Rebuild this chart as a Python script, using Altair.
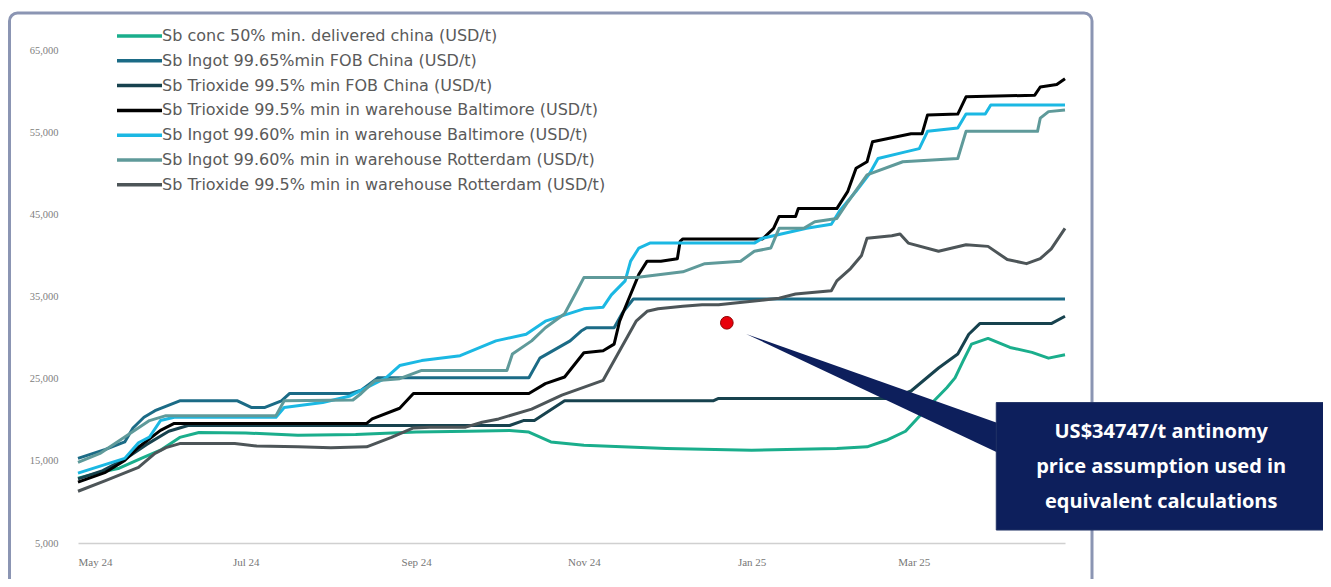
import altair as alt
import pandas as pd

SERIES = [
    "Sb conc 50% min. delivered china (USD/t)",
    "Sb Ingot 99.65%min FOB China  (USD/t)",
    "Sb Trioxide 99.5% min FOB China (USD/t)",
    "Sb Trioxide 99.5% min in warehouse Baltimore  (USD/t)",
    "Sb Ingot 99.60% min in warehouse Baltimore  (USD/t)",
    "Sb Ingot 99.60% min in warehouse Rotterdam  (USD/t)",
    "Sb Trioxide 99.5% min in warehouse Rotterdam (USD/t)",
]
COLORS = ["#1aae8c", "#1b6b86", "#17424e", "#000000", "#1bb8e3", "#5f9a9a", "#4d5558"]

conc_dates = ["2024-05-01", "2024-05-08", "2024-05-16", "2024-05-24", "2024-05-31", "2024-06-07",
              "2024-06-14", "2024-07-01", "2024-07-20", "2024-08-10", "2024-09-01", "2024-09-20",
              "2024-10-05", "2024-10-12", "2024-10-20", "2024-11-01", "2024-12-01", "2025-01-01",
              "2025-02-01", "2025-02-12", "2025-02-19", "2025-02-26", "2025-03-06", "2025-03-13",
              "2025-03-16", "2025-03-19", "2025-03-22", "2025-03-28", "2025-04-05", "2025-04-13",
              "2025-04-19", "2025-04-25"]
conc_vals = [12900, 13500, 14100, 15300, 16300, 17850, 18450, 18400, 18100, 18200, 18500, 18600,
             18700, 18500, 17300, 16900, 16500, 16300, 16500, 16700, 17500, 18600, 21500, 23900,
             25100, 27200, 29200, 29900, 28800, 28200, 27500, 27900]

ingot_fob_dates = ["2024-05-01", "2024-05-11", "2024-05-18", "2024-05-21", "2024-05-25", "2024-05-29",
                   "2024-06-07", "2024-06-28", "2024-07-03", "2024-07-08", "2024-07-14", "2024-07-17",
                   "2024-08-08", "2024-08-12", "2024-08-18", "2024-10-12", "2024-10-16", "2024-10-27",
                   "2024-10-31", "2024-11-02", "2024-11-12", "2024-11-15", "2024-11-19", "2025-04-25"]
ingot_fob_vals = [15300, 16400, 17300, 19000, 20300, 21100, 22300, 22300, 21500, 21500, 22300, 23200,
                  23200, 23600, 25100, 25100, 27500, 29600, 30800, 31200, 31200, 33000, 34700, 34700]

triox_fob_dates = ["2024-05-01", "2024-05-10", "2024-05-18", "2024-05-26", "2024-06-03", "2024-06-10",
                   "2024-10-05", "2024-10-10", "2024-10-14", "2024-10-25", "2024-12-18", "2024-12-20",
                   "2025-02-21", "2025-02-28", "2025-03-10", "2025-03-17", "2025-03-21", "2025-03-25",
                   "2025-04-20", "2025-04-25"]
triox_fob_vals = [12800, 13800, 15200, 17000, 18600, 19300, 19300, 19900, 19900, 22300, 22300, 22600,
                  22600, 23500, 26300, 28000, 30400, 31700, 31700, 32600]

triox_balt_dates = ["2024-05-01", "2024-05-11", "2024-05-18", "2024-05-23", "2024-05-31", "2024-06-05",
                    "2024-08-14", "2024-08-16", "2024-08-26", "2024-08-31", "2024-10-12", "2024-10-18",
                    "2024-10-25", "2024-11-01", "2024-11-08", "2024-11-12", "2024-11-14", "2024-11-17",
                    "2024-11-21", "2024-11-24", "2024-11-29", "2024-12-05", "2024-12-06", "2024-12-07",
                    "2025-01-05", "2025-01-09", "2025-01-11", "2025-01-17", "2025-01-18", "2025-02-01",
                    "2025-02-05", "2025-02-08", "2025-02-12", "2025-02-14", "2025-02-28", "2025-03-04",
                    "2025-03-06", "2025-03-17", "2025-03-20", "2025-04-14", "2025-04-16", "2025-04-22",
                    "2025-04-25"]
triox_balt_vals = [12400, 13600, 15050, 16650, 18700, 19550, 19550, 20100, 21400, 23200, 23200, 24400,
                   25200, 28150, 28400, 29200, 32000, 34450, 37700, 39300, 39300, 39600, 41700, 42000,
                   42000, 43300, 44750, 44750, 45700, 45700, 47800, 50600, 51400, 53840, 54800, 54800,
                   57100, 57200, 59300, 59500, 60500, 60800, 61500]

ingot_balt_dates = ["2024-05-01", "2024-05-18", "2024-05-23", "2024-05-27", "2024-05-31", "2024-06-05",
                    "2024-07-12", "2024-07-15", "2024-07-29", "2024-08-08", "2024-08-21", "2024-08-26",
                    "2024-09-03", "2024-09-17", "2024-09-30", "2024-10-11", "2024-10-18", "2024-11-01",
                    "2024-11-08", "2024-11-11", "2024-11-16", "2024-11-18", "2024-11-21", "2024-11-25",
                    "2025-01-02", "2025-01-05", "2025-01-17", "2025-01-21", "2025-01-30", "2025-02-02",
                    "2025-02-08", "2025-02-13", "2025-02-16", "2025-02-26", "2025-03-03", "2025-03-06",
                    "2025-03-17", "2025-03-20", "2025-03-27", "2025-03-29", "2025-04-25"]
ingot_balt_vals = [13500, 15300, 17200, 17900, 19900, 20300, 20300, 21500, 22100, 22900, 25100, 26600,
                   27200, 27800, 29600, 30400, 32000, 33500, 33700, 35200, 36900, 39300, 40900, 41500,
                   41500, 42100, 43000, 43300, 43800, 45400, 47800, 50000, 51800, 52600, 53000, 55100,
                   55500, 57200, 57200, 58300, 58300]

ingot_rott_dates = ["2024-05-01", "2024-05-09", "2024-05-27", "2024-06-02", "2024-07-12", "2024-07-15",
                    "2024-08-09", "2024-08-12", "2024-08-17", "2024-08-26", "2024-09-03", "2024-10-04",
                    "2024-10-06", "2024-10-13", "2024-10-18", "2024-10-25", "2024-10-29", "2024-11-01",
                    "2024-11-20", "2024-12-07", "2024-12-15", "2024-12-28", "2025-01-02", "2025-01-08",
                    "2025-01-11", "2025-01-20", "2025-01-24", "2025-02-01", "2025-02-05", "2025-02-12",
                    "2025-02-25", "2025-03-17", "2025-03-20", "2025-04-15", "2025-04-16", "2025-04-19",
                    "2025-04-25"]
ingot_rott_vals = [14800, 15900, 19900, 20500, 20500, 22300, 22400, 23200, 24760, 25000, 26000, 26000,
                   28000, 29600, 31200, 32900, 35400, 37300, 37300, 38000, 39000, 39300, 40500, 40900,
                   43300, 43300, 44100, 44500, 46500, 49800, 51400, 51800, 55100, 55100, 56700, 57500,
                   57700]

triox_rott_dates = ["2024-05-01", "2024-05-11", "2024-05-23", "2024-05-29", "2024-06-02", "2024-06-07",
                    "2024-06-27", "2024-07-05", "2024-07-20", "2024-08-01", "2024-08-14", "2024-08-23",
                    "2024-08-31", "2024-09-06", "2024-09-19", "2024-09-25", "2024-10-01", "2024-10-13",
                    "2024-10-24", "2024-11-08", "2024-11-14", "2024-11-20", "2024-11-24", "2024-11-28",
                    "2024-12-07", "2024-12-14", "2024-12-20", "2024-12-26", "2025-01-02", "2025-01-11",
                    "2025-01-17", "2025-01-30", "2025-02-01", "2025-02-06", "2025-02-10", "2025-02-12",
                    "2025-02-21", "2025-02-24", "2025-02-27", "2025-03-10", "2025-03-20", "2025-03-28",
                    "2025-04-04", "2025-04-11", "2025-04-16", "2025-04-20", "2025-04-25"]
triox_rott_vals = [11300, 12600, 14200, 15900, 16600, 17100, 17100, 16800, 16700, 16600, 16700, 17850,
                   19000, 19100, 19100, 19700, 20100, 21300, 23000, 24800, 28400, 32000, 33200, 33500,
                   33800, 34000, 34000, 34200, 34450, 34800, 35300, 35700, 36900, 38400, 40000, 42100,
                   42400, 42600, 41500, 40500, 41300, 41100, 39500, 39000, 39600, 40800, 43300]

Y_TICKS = [5000, 15000, 25000, 35000, 45000, 55000, 65000]

# annotation (price assumption point and callout)
dot_date = ["2024-12-23"]
dot_val = [31800]
tail_dates = ["2024-12-30", "2025-04-01"]
tail_top = [30450, 19545]
tail_bottom = [30450, 15910]
box_dates = ["2025-03-31", "2025-07-28"]
box_vals = [22090, 6580]
callout_lines = ["US$34747/t antinomy", "price assumption used in", "equivalent calculations"]
callout_date = "2025-05-30"
callout_vals = [18450, 14210, 9970]

NAVY = "#0d1f5c"
FRAME = "#8b95b3"

all_dates = [conc_dates, ingot_fob_dates, triox_fob_dates, triox_balt_dates,
             ingot_balt_dates, ingot_rott_dates, triox_rott_dates]
all_vals = [conc_vals, ingot_fob_vals, triox_fob_vals, triox_balt_vals,
            ingot_balt_vals, ingot_rott_vals, triox_rott_vals]

rows = []
for name, ds, vs in zip(SERIES, all_dates, all_vals):
    for d, v in zip(ds, vs):
        rows.append({"series": name, "date": pd.Timestamp(d), "value": v})
df = pd.DataFrame(rows)

x_scale = alt.Scale(domain=[alt.DateTime(year=2024, month=5, date=1),
                            alt.DateTime(year=2025, month=4, date=25)], nice=False)
y_scale = alt.Scale(domain=[5000, 65000], nice=False, zero=False)

x_axis = alt.Axis(
    values=[alt.DateTime(year=2024, month=5, date=1), alt.DateTime(year=2024, month=7, date=1),
            alt.DateTime(year=2024, month=9, date=1), alt.DateTime(year=2024, month=11, date=1),
            alt.DateTime(year=2025, month=1, date=1), alt.DateTime(year=2025, month=3, date=1)],
    format="%b %y", labelFont="Liberation Serif", labelFontSize=11, labelColor="#777777",
    domainColor="#d0d0d0", domainWidth=1.5, ticks=False, grid=False, labelPadding=13, title=None,
)
y_axis = alt.Axis(values=Y_TICKS, format=",.0f", labelExpr="format(datum.value, ',')",
                  labelFont="Liberation Serif", labelFontSize=10.5,
                  labelColor="#808080", domain=False, ticks=False, grid=False, labelPadding=20,
                  title=None)


def X(field):
    return alt.X(field, scale=x_scale, axis=x_axis, title=None)


def Y(field):
    return alt.Y(field, scale=y_scale, axis=y_axis, title=None)


lines = alt.Chart(df).mark_line(strokeWidth=3, strokeJoin="round").encode(
    x=X("date:T"),
    y=Y("value:Q"),
    color=alt.Color("series:N", scale=alt.Scale(domain=SERIES, range=COLORS),
                    legend=alt.Legend(orient="none", legendX=37, legendY=-26, title=None,
                                      symbolType="M-1,0H3.5", symbolSize=400, symbolStrokeWidth=3.5,
                                      labelFont="DejaVu Sans", labelFontSize=16,
                                      labelColor="#5a5a5a", labelOffset=23, rowPadding=4.8,
                                      labelLimit=700)),
)

frame = alt.Chart(pd.DataFrame({"k": [0]})).mark_rect(
    filled=False, color=FRAME, strokeWidth=3, cornerRadius=8
).encode(x=alt.value(-68.5), x2=alt.value(1014), y=alt.value(-37), y2=alt.value(800))

tail_df = pd.DataFrame({"date": pd.to_datetime(tail_dates), "top": tail_top, "bottom": tail_bottom})
tail = alt.Chart(tail_df).mark_area(color=NAVY, interpolate="linear").encode(
    x=X("date:T"), y=Y("top:Q"), y2="bottom:Q"
)

box_df = pd.DataFrame({"x": [pd.Timestamp(box_dates[0])], "x2": [pd.Timestamp(box_dates[1])],
                       "y": [box_vals[0]], "y2": [box_vals[1]]})
box = alt.Chart(box_df).mark_rect(color=NAVY, stroke="#223366", strokeWidth=1).encode(
    x=X("x:T"), x2="x2:T", y=Y("y:Q"), y2="y2:Q"
)

txt_df = pd.DataFrame({"date": [pd.Timestamp(callout_date)] * 3, "value": callout_vals,
                       "t": callout_lines})
txt = alt.Chart(txt_df).mark_text(font="Open Sans", fontWeight="bold", fontSize=20,
                                  color="white", align="center", baseline="middle").encode(
    x=X("date:T"), y=Y("value:Q"), text="t:N"
)

dot_df = pd.DataFrame({"date": pd.to_datetime(dot_date), "value": dot_val})
dot = alt.Chart(dot_df).mark_point(filled=True, size=160, color="#e8000b", stroke="#900000",
                                   strokeWidth=1, opacity=1).encode(
    x=X("date:T"), y=Y("value:Q")
)

chart = alt.layer(frame, lines, tail, box, txt, dot).properties(
    width=987, height=493,
    autosize=alt.AutoSizeParams(type="none"),
    padding={"left": 70, "top": 42, "right": 258, "bottom": 36},
    background="white",
).configure_view(stroke=None)

chart.save("out.html", embed_options={"renderer": "svg", "actions": False})
